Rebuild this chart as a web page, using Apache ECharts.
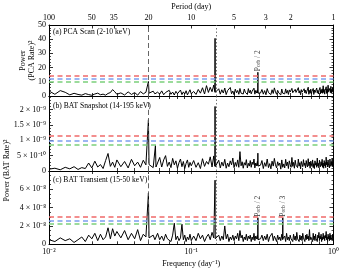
<!DOCTYPE html>
<html><head><meta charset="utf-8">
<script src="https://cdn.jsdelivr.net/npm/echarts@6/dist/echarts.min.js"></script>
<style>html,body{margin:0;padding:0;background:#fff}#c{width:344px;height:272px}</style>
</head><body><div id="c"></div>
<script>
// Frequency grid (day^-1), shared by the three periodograms (extra samples beside the peaks at the end)
const freq = [
0.010,0.011,0.012,0.013,0.014,0.015,0.016,0.017,0.018,0.019,0.020,0.021,0.022,0.023,0.024,0.025,0.026,0.027,0.028,0.029,0.030,
0.032,0.034,0.036,0.038,0.040,0.042,0.044,0.046,0.048,0.050,0.052,0.054,0.056,0.058,0.060,0.062,0.064,0.066,0.068,0.070,0.072,0.074,0.076,0.078,0.080,0.082,0.084,0.086,0.088,0.090,0.092,0.094,0.096,0.098,0.100,
0.104,0.108,0.112,0.116,0.120,0.124,0.128,0.132,0.136,0.140,0.144,0.147,0.152,0.156,0.160,0.164,0.168,0.172,0.176,0.180,0.184,0.188,0.192,0.196,0.200,0.204,0.208,0.212,0.216,0.220,0.224,0.228,0.232,0.236,0.240,0.244,0.248,0.252,0.256,0.260,0.264,0.268,0.272,0.276,0.280,0.284,0.288,0.292,0.294,0.300,
0.307,0.314,0.321,0.328,0.335,0.342,0.349,0.356,0.363,0.370,0.377,0.384,0.391,0.398,0.405,0.412,0.419,0.426,0.433,0.440,0.447,0.454,0.461,0.468,0.475,0.482,0.489,0.496,0.503,0.510,0.517,0.524,0.531,0.538,0.545,0.552,0.559,0.566,0.573,0.580,0.587,0.594,0.601,0.608,0.615,0.622,0.629,0.636,0.643,0.650,0.657,0.664,0.671,0.678,0.685,0.692,0.699,0.706,0.713,0.720,0.727,0.734,0.741,0.748,0.755,0.762,0.769,0.776,0.783,0.790,0.797,0.804,0.811,0.818,0.825,0.832,0.839,0.846,0.853,0.860,0.867,0.874,0.881,0.888,0.895,0.902,0.909,0.916,0.923,0.930,0.937,0.944,0.951,0.958,0.965,0.972,0.979,0.986,0.993,1.000,
0.0495,0.0505,0.0555,0.0565,0.1465,0.1475,0.2935,0.2945,0.4395,0.4405];

// (a) PCA Scan power, (PCA rate)^2
const powerPCA = [
3.5,1.2,3.8,2.6,0.8,1.9,1.1,0.6,1.7,1.0,0.5,1.4,2.0,0.9,1.3,0.6,1.8,2.4,4.5,3.0,1.2,
2.2,0.7,2.9,1.1,2.4,0.6,3.1,1.5,2.6,10.2,1.9,3.4,0.8,2.7,1.3,3.6,0.9,2.5,1.7,4.0,1.2,2.8,0.7,3.3,1.6,2.4,4.2,1.0,2.9,1.4,3.7,0.8,2.6,4.4,1.5,
3.2,1.1,4.6,2.0,5.8,1.4,7.3,2.5,6.1,3.0,7.7,40.6,2.2,5.1,1.3,4.4,2.1,5.6,1.0,3.8,2.4,6.0,1.6,3.5,0.9,4.8,2.3,3.9,1.2,5.3,2.0,3.3,1.4,4.9,2.6,3.7,1.1,5.2,2.2,4.1,1.5,3.4,2.8,5.5,1.3,3.9,2.1,4.3,16.7,2.4,
2.1,4.6,1.3,3.8,0.9,5.2,2.4,3.1,1.0,4.4,1.8,5.7,2.9,1.2,4.0,2.2,3.5,0.8,4.9,2.6,
3.3,1.5,5.0,2.0,3.9,1.1,4.3,2.8,1.6,5.4,2.3,3.6,1.0,4.7,2.5,3.2,1.4,5.9,2.1,3.7,
0.9,4.5,2.7,3.0,1.3,5.1,2.2,4.1,1.7,3.4,2.6,6.2,1.2,3.9,2.0,4.8,1.5,3.3,2.9,5.3,
1.1,4.2,2.4,3.6,1.8,5.6,2.2,4.0,1.4,3.7,2.8,6.0,1.6,4.4,2.3,5.0,1.9,7.2,2.5,4.6,
1.3,3.8,2.7,6.5,1.8,4.9,2.1,7.6,3.0,4.3,1.6,5.4,2.4,6.8,2.0,4.7,3.1,5.9,2.6,4.5,
1.8,2.0,1.5,1.2,3.0,2.5,2.2,2.0,2.0,2.2];

// (b) BAT Snapshot power, in units of 1e-10 (BAT rate)^2
const powerSnap = [
0.6,0.9,0.4,1.2,0.7,1.4,0.5,1.1,0.8,2.6,1.0,3.2,1.3,2.1,0.8,3.4,5.7,1.5,2.9,1.2,3.6,
1.4,3.1,1.0,3.8,1.7,2.9,1.2,3.5,2.0,16.7,2.6,1.1,8.3,1.9,4.4,1.3,3.6,5.0,1.5,2.9,1.1,4.1,2.0,3.3,0.9,2.7,3.9,1.4,3.1,0.8,2.5,3.6,1.2,2.8,1.7,
3.4,1.2,2.7,0.8,4.0,1.5,3.1,2.2,4.6,1.3,4.9,21.0,1.8,3.5,1.0,2.9,1.6,3.8,0.9,2.6,1.4,3.3,2.0,4.2,1.1,2.8,1.5,3.6,1.2,6.3,1.7,3.0,0.9,2.7,1.9,3.7,1.0,2.5,1.6,3.4,1.2,2.9,2.1,3.9,1.0,2.6,1.7,3.2,5.8,1.5,
1.9,3.4,0.8,2.7,1.5,3.9,1.1,2.4,0.7,3.2,1.6,4.1,2.0,1.0,3.0,1.8,2.6,0.6,3.6,1.4,
2.3,1.0,3.8,1.7,2.9,0.8,3.3,2.1,1.2,4.4,1.5,2.8,0.9,3.5,1.9,2.5,1.1,3.9,1.6,2.7,
0.7,3.1,2.2,1.4,3.7,1.8,2.6,1.0,3.4,2.0,1.3,4.0,1.7,2.9,0.9,3.2,2.3,1.5,3.6,1.1,
2.4,0.8,3.3,1.9,2.7,1.2,4.2,1.6,2.5,1.0,3.5,2.1,1.4,3.0,1.8,3.8,1.2,2.6,0.9,3.4,
1.7,2.8,1.1,4.5,2.0,2.9,1.3,3.6,1.8,2.4,1.0,3.9,2.2,1.5,3.1,1.9,4.1,1.4,2.7,3.3,
1.5,2.1,1.0,1.3,1.6,1.4,1.8,1.6,1.2,1.5];

// (c) BAT Transient power, in units of 1e-8 (BAT rate)^2
const powerTrans = [
0.5,0.3,0.7,0.4,0.6,0.2,0.5,0.8,0.3,1.0,0.6,1.2,0.4,1.1,0.5,0.8,1.8,0.6,1.7,0.9,1.4,
0.7,1.5,0.5,1.2,0.6,1.6,0.4,1.1,0.8,5.6,0.6,1.0,0.3,1.2,0.5,0.9,0.4,1.1,0.6,0.8,0.3,1.0,2.3,0.5,0.9,0.4,0.7,2.2,0.5,1.0,0.3,0.8,0.5,1.1,0.4,
0.9,0.4,1.2,0.6,1.0,0.3,0.8,1.1,0.5,1.3,0.7,7.0,0.6,1.0,0.4,0.9,0.5,2.0,0.6,1.1,0.3,0.8,0.5,1.0,0.4,0.9,0.6,1.2,0.4,1.5,0.7,1.0,0.3,0.8,0.5,1.1,0.4,0.9,0.6,1.0,0.3,0.8,0.5,1.2,0.4,0.9,0.6,1.0,2.9,0.5,
0.6,1.0,0.4,0.9,0.5,1.1,0.3,0.8,0.6,1.2,0.4,0.9,0.7,0.3,1.0,0.5,0.8,0.4,1.1,2.9,
0.6,0.9,0.3,1.2,0.5,0.8,0.4,1.0,0.6,0.7,0.3,1.1,0.5,0.9,0.4,1.3,0.6,0.8,0.3,1.0,
0.5,0.9,0.4,1.2,0.7,0.8,0.3,1.0,0.5,1.1,0.6,0.9,0.4,1.6,0.5,0.8,0.7,1.0,0.3,1.2,
0.5,0.9,0.4,1.1,0.6,0.8,0.3,1.0,0.7,1.3,0.4,0.9,0.6,1.1,0.3,0.8,0.5,1.2,0.6,0.9,
0.4,1.0,0.7,1.4,0.5,0.8,0.3,1.1,0.6,0.9,0.4,1.2,0.5,1.0,0.7,0.8,0.4,1.1,0.6,0.9,
0.6,0.7,0.5,0.4,0.5,0.6,0.6,0.5,0.5,0.6];

// Significance levels [red, blue, green]
const levelsPCA = [14.1, 11.9, 10.0];
const levelsSnap = [11.6, 9.7, 8.4];
const levelsTrans = [3.05, 2.6, 2.27];

const panelTitles = ['(a) PCA Scan (2-10 keV)', '(b) BAT Snapshot (14-195 keV)', '(c) BAT Transient (15-50 keV)'];
const periodTicks = [100, 50, 35, 20, 10, 5, 3, 2, 1];
const freqMajorTicks = [0.01, 0.1, 1];
const freqMajorLabels = ['10⁻²', '10⁻¹', '10⁰'];
const freqMinorTicks = [0.01,0.02,0.03,0.04,0.05,0.06,0.07,0.08,0.09,0.1,0.2,0.3,0.4,0.5,0.6,0.7,0.8,0.9,1];
const yTicksPCA = [0, 10, 20, 30, 40, 50];
const yTicksSnap = [0, 5, 10, 15, 20];
const yLabelsSnap = ['0', '5 × 10⁻¹⁰', '1 × 10⁻⁹', '1.5 × 10⁻⁹', '2 × 10⁻⁹'];
const yTicksTrans = [0, 2, 4, 6];
const yLabelsTrans = ['0', '2 × 10⁻⁸', '4 × 10⁻⁸', '6 × 10⁻⁸'];
const markedPeriod = 20;      // dashed vertical line
const orbitFreq = 0.147;      // orbital frequency (dotted line)
const orbLabelsA = [{f: 0.294, text: '/ 2'}];
const orbLabelsC = [{f: 0.294, text: '/ 2'}, {f: 0.440, text: '/ 3'}];

const FONT = 'Liberation Serif';
const RED = '#f06a6a', BLUE = '#7c9ef0', GREEN = '#7bcf7b';
const grids = [
  {left: 49, right: 10.5, top: 25, height: 71},
  {left: 49, right: 10.5, top: 96, height: 75},
  {left: 49, right: 10.5, top: 171, height: 73.3}
];
const lineAxis = {show: true, onZero: false, lineStyle: {color: '#000', width: 1}};

function xAxisPair(g, bottomLabels) {
  const bottom = {
    type: 'log', logBase: 10, gridIndex: g, position: 'bottom', min: 0.01, max: 1,
    axisLine: lineAxis,
    axisTick: {show: true, inside: true, length: 3, customValues: freqMinorTicks, lineStyle: {color: '#000', width: 0.8}},
    axisLabel: bottomLabels ? {show: true, customValues: freqMajorTicks, margin: 4, fontFamily: FONT, fontSize: 8, color: '#000',
      formatter: v => { let k = 0, d = 1e9; freqMajorTicks.forEach((t, i) => { const e = Math.abs(Math.log10(t) - Math.log10(v)); if (e < d) { d = e; k = i; } }); return freqMajorLabels[k]; }} : {show: false},
    splitLine: {show: false}
  };
  if (bottomLabels) {
    bottom.name = 'Frequency (day⁻¹)'; bottom.nameLocation = 'middle'; bottom.nameGap = 16;
    bottom.nameTextStyle = {fontFamily: FONT, fontSize: 8, color: '#000'};
  }
  const top = {
    type: 'log', logBase: 10, gridIndex: g, position: 'top', min: 0.01, max: 1,
    axisLine: lineAxis,
    axisTick: {show: true, inside: true, length: 3, customValues: freqMinorTicks, lineStyle: {color: '#000', width: 0.8}},
    axisLabel: {show: false}, splitLine: {show: false}
  };
  return [bottom, top];
}
const xAxes = [].concat(xAxisPair(0, false), xAxisPair(1, false), xAxisPair(2, true));
// period axis on top of panel (a)
xAxes[1].axisTick = {show: true, inside: true, length: 3.5, customValues: periodTicks.map(p => 1 / p), lineStyle: {color: '#000', width: 0.8}};
xAxes[1].axisLabel = {show: true, customValues: periodTicks.map(p => 1 / p), margin: 3, fontFamily: FONT, fontSize: 8, color: '#000',
  formatter: v => String(Math.round(1 / v))};
xAxes[1].name = 'Period (day)'; xAxes[1].nameLocation = 'middle'; xAxes[1].nameGap = 14;
xAxes[1].nameTextStyle = {fontFamily: FONT, fontSize: 8, color: '#000'};

function yAxisPair(g, max, interval, minorSplit, labelFn, extra) {
  const common = {type: 'value', gridIndex: g, min: 0, max: max, interval: interval,
    axisLine: lineAxis, splitLine: {show: false},
    axisTick: {show: true, inside: true, length: 4, lineStyle: {color: '#000', width: 0.8}},
    minorTick: {show: true, splitNumber: minorSplit, length: 2, lineStyle: {color: '#000', width: 0.7}}};
  const left = Object.assign({}, common, {position: 'left',
    axisLabel: {show: true, margin: 3, fontFamily: FONT, fontSize: 8, color: '#000', showMaxLabel: extra.showMax, formatter: labelFn}}, extra.name || {});
  const right = Object.assign({}, common, {position: 'right', axisLabel: {show: false}});
  return [left, right];
}
const yAxes = [].concat(
  yAxisPair(0, 50, 10, 5, v => yTicksPCA.indexOf(v) >= 0 ? String(v) : '', {showMax: true,
    name: {name: 'Power\n(PCA Rate)²', nameLocation: 'middle', nameGap: 13, nameRotate: 90, nameMoveOverlap: false,
      nameTextStyle: {fontFamily: FONT, fontSize: 8, color: '#000', lineHeight: 9}}}),
  yAxisPair(1, 24.4, 5, 5, v => { const i = yTicksSnap.indexOf(v); return i >= 0 ? yLabelsSnap[i] : ''; }, {showMax: false}),
  yAxisPair(2, 8, 2, 4, v => { const i = yTicksTrans.indexOf(v); return i >= 0 ? yLabelsTrans[i] : ''; }, {showMax: false})
);

function panelSeries(g, values, levels) {
  const dash = {type: [5, 3.5], width: 1.6};
  return {
    type: 'line', xAxisIndex: 2 * g, yAxisIndex: 2 * g,
    data: freq.map((f, i) => [f, values[i]]).sort((a, b) => a[0] - b[0]),
    showSymbol: false, symbol: 'none', sampling: null, silent: true, z: 3,
    lineStyle: {color: '#000', width: 1},
    markLine: {silent: true, symbol: ['none', 'none'], label: {show: false}, animation: false, z: 4,
      data: [
        {xAxis: 1 / markedPeriod, lineStyle: {color: '#555', width: 0.9, type: [5, 3]}},
        {xAxis: orbitFreq, lineStyle: {color: '#555', width: 0.8, type: [1.5, 2]}},
        {yAxis: levels[0], lineStyle: Object.assign({color: RED}, dash)},
        {yAxis: levels[1], lineStyle: Object.assign({color: BLUE}, dash)},
        {yAxis: levels[2], lineStyle: Object.assign({color: GREEN}, dash)}
      ]}
  };
}
function orbSeries(g, values, labels) {
  return {
    type: 'scatter', xAxisIndex: 2 * g, yAxisIndex: 2 * g, silent: true, z: 5,
    symbolSize: 1, itemStyle: {color: 'rgba(0,0,0,0)'},
    data: labels.map(l => ({value: [l.f, values[freq.indexOf(l.f)]], name: l.text})),
    label: {show: true, position: 'top', rotate: 90, align: 'left', verticalAlign: 'middle', distance: 1.5, offset: [-1, 0],
      formatter: p => '{p|P}{s|orb}{p| ' + p.name + '}',
      rich: {p: {fontFamily: FONT, fontSize: 7.5, color: '#000'}, s: {fontFamily: FONT, fontSize: 5.5, color: '#000', verticalAlign: 'bottom'}}}
  };
}

const chart = echarts.init(document.getElementById('c'), null, {renderer: 'canvas'});
chart.setOption({
  animation: false,
  backgroundColor: '#fff',
  grid: grids,
  xAxis: xAxes,
  yAxis: yAxes,
  series: [
    panelSeries(0, powerPCA, levelsPCA),
    panelSeries(1, powerSnap, levelsSnap),
    panelSeries(2, powerTrans, levelsTrans),
    orbSeries(0, powerPCA, orbLabelsA),
    orbSeries(2, powerTrans, orbLabelsC)
  ],
  graphic: [
    {type: 'text', x: 53, y: 32, silent: true, style: {text: panelTitles[0], font: '7.6px "' + FONT + '"', fill: '#000', verticalAlign: 'middle'}},
    {type: 'text', x: 53, y: 106, silent: true, style: {text: panelTitles[1], font: '7.6px "' + FONT + '"', fill: '#000', verticalAlign: 'middle'}},
    {type: 'text', x: 53, y: 180, silent: true, style: {text: panelTitles[2], font: '7.6px "' + FONT + '"', fill: '#000', verticalAlign: 'middle'}},
    {type: 'text', x: 7, y: 170.5, rotation: Math.PI / 2, silent: true,
      style: {text: 'Power (BAT Rate)²', font: '8px "' + FONT + '"', fill: '#000', align: 'center', verticalAlign: 'middle'}}
  ]
});
</script></body></html>
